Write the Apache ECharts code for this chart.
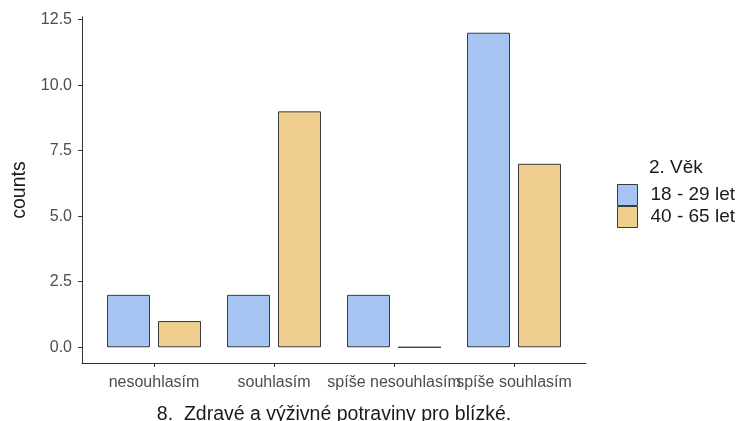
<!DOCTYPE html>
<html>
<head>
<meta charset="utf-8">
<script src="https://cdn.jsdelivr.net/npm/echarts@6/dist/echarts.min.js"></script>
<style>
html,body{margin:0;padding:0;background:#fff;}
#chart{width:741px;height:421px;}
</style>
</head>
<body>
<div id="chart"></div>
<script>
const categories = ['nesouhlasím', 'souhlasím', 'spíše nesouhlasím', 'spíše souhlasím'];
const seriesNames = ['18 - 29 let', '40 - 65 let'];
const young = [2, 2, 2, 12];
const older = [1, 9, 0, 7];
const yTicks = [0, 2.5, 5, 7.5, 10, 12.5];
const xTitle = '8.  Zdravé a výživné potraviny pro blízké.';
const yTitle = 'counts';
const legendTitle = '2. Věk';

const FONT = '"Liberation Sans", Arial, sans-serif';
const chart = echarts.init(document.getElementById('chart'), null, {renderer: 'canvas'});
const gridTop = 17, gridH = 346;
chart.setOption({
  animation: false,
  backgroundColor: '#ffffff',
  textStyle: {fontFamily: FONT},
  title: [{text: legendTitle, left: 644, top: 153, textStyle: {fontSize: 19, fontWeight: 'normal', color: '#1a1a1a', fontFamily: FONT}}],
  legend: {
    orient: 'vertical', left: 612, top: 179, itemWidth: 20, itemHeight: 21, itemGap: 0,
    icon: 'rect', data: seriesNames,
    itemStyle: {borderWidth: 1, borderColor: '#3a3a3a'},
    textStyle: {fontSize: 19, color: '#1a1a1a', fontFamily: FONT, padding: [0, 0, 0, 8]}
  },
  grid: [
    {left: 82, top: gridTop, width: 504, height: gridH, outerBoundsMode: 'none', containLabel: false},
    {left: 94, top: gridTop, width: 480, height: gridH, outerBoundsMode: 'none', containLabel: false}
  ],
  xAxis: [
    {type: 'value', gridIndex: 0, min: 0.4, max: 4.6,
     axisLine: {show: true, onZero: false, lineStyle: {color: '#333', width: 1}}, axisTick: {show: false}, axisLabel: {show: false}, splitLine: {show: false},
     name: xTitle, nameLocation: 'middle', nameGap: 42, nameTextStyle: {fontSize: 19.5, color: '#1a1a1a', fontFamily: FONT}},
    {type: 'category', gridIndex: 1, data: categories,
     axisLine: {show: false, onZero: false}, axisTick: {show: true, alignWithLabel: true, length: 4, lineStyle: {color: '#333'}},
     axisLabel: {interval: 0, fontSize: 16, color: '#4d4d4d', margin: 12, fontFamily: FONT}, splitLine: {show: false}}
  ],
  yAxis: [
    {type: 'value', gridIndex: 0, min: -0.6, max: 12.6,
     axisLine: {show: true, onZero: false, lineStyle: {color: '#333', width: 1}},
     axisTick: {show: true, length: 4, customValues: yTicks, lineStyle: {color: '#333'}},
     axisLabel: {customValues: yTicks, fontSize: 16, color: '#4d4d4d', margin: 10, fontFamily: FONT, formatter: v => v.toFixed(1)},
     splitLine: {show: false},
     name: yTitle, nameLocation: 'middle', nameGap: 52, nameRotate: 90, nameTextStyle: {fontSize: 19.5, color: '#1a1a1a', fontFamily: FONT}},
    {type: 'value', gridIndex: 1, min: -0.6, max: 12.6, show: false}
  ],
  series: [
    {name: seriesNames[0], type: 'bar', xAxisIndex: 1, yAxisIndex: 1, data: young, barWidth: 43, barGap: '18.6%',
     itemStyle: {color: '#A6C4F2', borderColor: '#3a3a3a', borderWidth: 1}},
    {name: seriesNames[1], type: 'bar', xAxisIndex: 1, yAxisIndex: 1, data: older, barWidth: 43, barGap: '18.6%',
     itemStyle: {color: '#F0CE8E', borderColor: '#3a3a3a', borderWidth: 1}}
  ]
});
</script>
</body>
</html>
